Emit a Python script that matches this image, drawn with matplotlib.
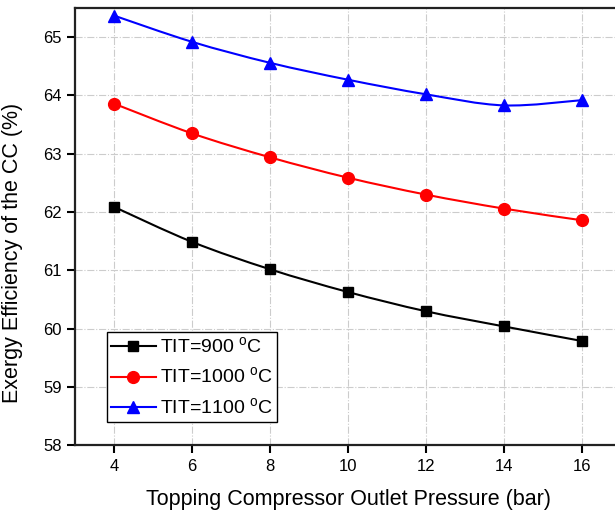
import numpy as np
import matplotlib
matplotlib.use("Agg")
from matplotlib import pyplot as plt
from matplotlib.path import Path
from matplotlib.patches import PathPatch
from matplotlib.lines import Line2D

plt.rcParams['font.family'] = ['Liberation Sans', 'DejaVu Sans']

# DATA
pressure = [4, 6, 8, 10, 12, 14, 16]
eff_900 = [62.09, 61.49, 61.02, 60.63, 60.30, 60.04, 59.79]
eff_1000 = [63.86, 63.35, 62.94, 62.59, 62.30, 62.06, 61.86]
eff_1100 = [65.37, 64.92, 64.56, 64.27, 64.02, 63.83, 63.92]
labels = ['TIT=900 $^\\mathregular{o}$C', 'TIT=1000 $^\\mathregular{o}$C', 'TIT=1100 $^\\mathregular{o}$C']
colors = ['black', 'red', 'blue']
markers = ['s', 'o', '^']
msizes = [7, 8.5, 9]


def smooth_path(x, y):
    # catmull-rom style cubic bezier through the points
    x = np.asarray(x, float)
    y = np.asarray(y, float)
    verts = [(x[0], y[0])]
    codes = [Path.MOVETO]
    n = len(x)
    for i in range(n - 1):
        i0 = max(i - 1, 0)
        i3 = min(i + 2, n - 1)
        c1 = (x[i] + (x[i + 1] - x[i0]) / 6.0, y[i] + (y[i + 1] - y[i0]) / 6.0)
        c2 = (x[i + 1] - (x[i3] - x[i]) / 6.0, y[i + 1] - (y[i3] - y[i]) / 6.0)
        verts += [c1, c2, (x[i + 1], y[i + 1])]
        codes += [Path.CURVE4] * 3
    return Path(verts, codes)


fig = plt.figure(figsize=(6.15, 5.15), dpi=100)
ax = fig.add_axes([75 / 615, 69.6 / 515, 546 / 615, 437.4 / 515])

handles = []
for ys, c, m, ms, lab in zip([eff_900, eff_1000, eff_1100], colors, markers, msizes, labels):
    ax.add_patch(PathPatch(smooth_path(pressure, ys), fill=False, edgecolor=c, lw=1.5, zorder=3))
    ax.plot(pressure, ys, ls='none', marker=m, color=c, markersize=ms, zorder=4)
    handles.append(Line2D([], [], color=c, marker=m, markersize=ms, lw=1.5, label=lab))

ax.set_xlim(3, 17)
ax.set_ylim(58, 65.5)
ax.set_xticks(pressure)
ax.set_yticks(range(58, 66))

ax.grid(True, color='#cccccc', ls='-.', lw=0.8)
ax.set_axisbelow(True)

for side in ['left', 'bottom', 'top', 'right']:
    ax.spines[side].set_linewidth(1.6)
    ax.spines[side].set_color('#222222')
ax.tick_params(direction='out', length=6, width=1.5, labelsize=12, colors='black')

ax.set_xlabel('Topping Compressor Outlet Pressure (bar)', fontsize=15.5, labelpad=11)
ax.set_ylabel('Exergy Efficiency of the CC (%)', fontsize=15.5)
ax.yaxis.set_label_coords(-0.095, 0.44)

leg = ax.legend(handles=handles, loc='lower left', bbox_to_anchor=(0.059, 0.054),
                fontsize=14, frameon=True, fancybox=False, framealpha=1,
                edgecolor='black', handlelength=2.3, handletextpad=0.2,
                borderpad=0.2, labelspacing=0.5, borderaxespad=0)
leg.get_frame().set_linewidth(1.0)

fig.savefig('out.png', dpi=100)
